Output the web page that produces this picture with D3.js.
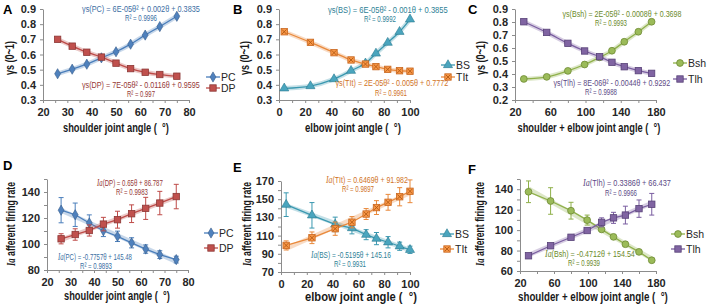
<!DOCTYPE html>
<html>
<head>
<meta charset="utf-8">
<script src="https://cdn.jsdelivr.net/npm/d3@7"></script>
<style>
  body { margin: 0; background: #fff; }
  svg text { font-family: "Liberation Sans", Arial, sans-serif; }
</style>
</head>
<body>
<svg id="chart" width="708" height="307"></svg>
<script>
// joint angles (x values)
const shoulderAngle = [26, 32, 38, 44, 50, 56, 62, 68, 75]
const elbowAngle = [4, 24, 42, 55, 66, 74, 83, 92, 100]
const sumAngle = [30, 56, 80, 99, 116, 130, 144, 160, 175]

// normalised spindle output ys (0~1)
const ysPC = [0.473, 0.503, 0.536, 0.578, 0.618, 0.668, 0.728, 0.784, 0.852]
const ysDP = [0.700, 0.655, 0.615, 0.583, 0.543, 0.507, 0.483, 0.468, 0.457]
const ysBS = [0.377, 0.392, 0.438, 0.493, 0.542, 0.607, 0.678, 0.750, 0.832]
const ysTIt = [0.750, 0.680, 0.612, 0.564, 0.537, 0.520, 0.502, 0.493, 0.490]
const ysBsh = [0.362, 0.378, 0.424, 0.473, 0.528, 0.579, 0.648, 0.725, 0.802]
const ysTlh = [0.802, 0.720, 0.636, 0.577, 0.533, 0.490, 0.456, 0.426, 0.405]

// Ia afferent firing rate, mean and error
const iaPC = [126, 122.5, 116.2, 110.2, 105.9, 100.9, 96.1, 91.8, 88]
const iaPCErr = [9.7, 9, 6.2, 4.5, 4, 3.9, 3.2, 3, 2.6]
const iaDP = [104, 107.3, 110.4, 115.3, 118.7, 123.3, 127.4, 131.5, 136.5]
const iaDPErr = [3.9, 4.4, 4.3, 5.2, 6.5, 6.8, 8.5, 9, 9.4]
const iaBS = [144, 132.3, 122.3, 118.3, 111, 106.7, 102.7, 98.3, 94.4]
const iaBSErr = [13, 14, 8, 6.4, 5.5, 6.7, 6.2, 4.5, 4]
const iaTIt = [99.2, 107.6, 117.6, 124.7, 133.7, 140.8, 146.6, 152.7, 158.7]
const iaTItErr = [5, 6.4, 7.3, 6.2, 6, 7.6, 8.7, 10, 12.5]
const iaBsh = [137.5, 128.5, 119, 109.8, 100.7, 93.4, 86.2, 78.7, 70.5]
const iaBshErr = [10.6, 13, 8.2, 4.9, 2, 1.5, 1.5, 1.5, 1.5]
const iaTlh = [74.9, 84.7, 93, 99.6, 107.6, 112, 114.7, 121, 125.3]
const iaTlhErr = [1.5, 1.5, 1.5, 1.5, 4.4, 5.4, 8.7, 8.5, 10.6]

// ticks
const xTicksShoulder = [20, 30, 40, 50, 60, 70, 80]
const xTicksElbow = [0, 20, 40, 60, 80, 100]
const xTicksSum = [20, 60, 100, 140, 180]
const yTicksA = [0.3, 0.4, 0.5, 0.6, 0.7, 0.8, 0.9]
const yTicksC = [0.2, 0.3, 0.4, 0.5, 0.6, 0.7, 0.8, 0.9]
const yTicksD = [80, 100, 120, 140]
const yTicksE = [70, 90, 110, 130, 150, 170]
const yTicksF = [60, 80, 100, 120, 140]

const svg = d3.select("#chart")
const axisColor = "#8c8c8c"

const colors = {
  PC:  {line: "#4a7ebb", fill: "#4f81bd", stroke: "#385d8a", text: "#3b6ea3"},
  DP:  {line: "#be4b48", fill: "#c0504d", stroke: "#8c3836", text: "#953735"},
  BS:  {line: "#3a98b0", fill: "#4aa5be", stroke: "#2a7a90", text: "#2e7f96"},
  TIt: {line: "#e9893b", fill: "#f79646", stroke: "#c8661f", text: "#d0731f"},
  Bsh: {line: "#8fb04a", fill: "#9bbb59", stroke: "#6e8a35", text: "#6b8a2a"},
  Tlh: {line: "#7a5ea0", fill: "#8064a2", stroke: "#574177", text: "#5c4a85"}
}

function marker(sel, kind, c) {
  if (kind == "diamond") {
    sel.append("path").attr("d", d3.symbol(d3.symbolDiamond, 30)).attr("fill", c.fill).attr("stroke", c.stroke).attr("stroke-width", 0.6)
  } else if (kind == "square") {
    sel.append("rect").attr("x", -3.2).attr("y", -3.2).attr("width", 6.4).attr("height", 6.4)
      .attr("fill", c.fill).attr("stroke", c.stroke).attr("stroke-width", 0.8)
  } else if (kind == "triangle") {
    sel.append("path").attr("d", d3.symbol(d3.symbolTriangle, 36)).attr("fill", c.fill).attr("stroke", c.stroke).attr("stroke-width", 0.6)
  } else if (kind == "xsquare") {
    sel.append("rect").attr("x", -3.2).attr("y", -3.2).attr("width", 6.4).attr("height", 6.4)
      .attr("fill", c.fill).attr("stroke", c.stroke).attr("stroke-width", 0.8)
    sel.append("path").attr("d", "M-2.3,-2.3L2.3,2.3M-2.3,2.3L2.3,-2.3").attr("stroke", "#b35a14").attr("stroke-width", 0.9)
  } else if (kind == "circle") {
    sel.append("circle").attr("r", 3.4).attr("fill", c.fill).attr("stroke", c.stroke).attr("stroke-width", 0.8)
  }
}

function linearFit(xs, ys) {
  const mx = d3.mean(xs), my = d3.mean(ys)
  const b = d3.sum(xs, (v, i) => (v - mx) * (ys[i] - my)) / d3.sum(xs, v => (v - mx) * (v - mx))
  return v => my + b * (v - mx)
}

// text squeezed horizontally to the width it has in the original (narrow font there)
// cx, cy = centre / baseline, w = target width, rot = rotate(-90) for y titles
function narrowText(parent, cx, cy, w, rot) {
  const g = parent.append("g")
  const t = g.append("text")
  t.fit = () => {
    const k = w / t.node().getComputedTextLength()
    g.attr("transform", "translate(" + cx + "," + cy + ")" + (rot ? " rotate(-90)" : "") + " scale(" + k + ",1)")
    t.attr("x", -w / 2 / k)
  }
  return t
}

function panel(cfg) {
  const x = d3.scaleLinear().domain(cfg.xDomain).range(cfg.xRange)
  const y = d3.scaleLinear().domain(cfg.yDomain).range(cfg.yRange)
  const g = svg.append("g")

  const xMinor = d3.range(cfg.xDomain[0], cfg.xDomain[1] + 0.001, cfg.xStep)
  const yMinor = d3.range(cfg.yDomain[0], cfg.yDomain[1] + 0.0001, cfg.yStep).map(v => +v.toFixed(3))
  const onList = (list, v) => list.some(t => Math.abs(t - v) < 1e-6)

  const xa = g.append("g").attr("transform", "translate(0," + cfg.yRange[0] + ")")
    .call(d3.axisBottom(x).tickValues(xMinor).tickSize(3).tickSizeOuter(0).tickPadding(5)
      .tickFormat(v => onList(cfg.xTicks, v) ? v : ""))
  const ya = g.append("g").attr("transform", "translate(" + cfg.xRange[0] + ",0)")
    .call(d3.axisLeft(y).tickValues(yMinor).tickSize(3).tickSizeOuter(0).tickPadding(4)
      .tickFormat(v => onList(cfg.yTicks, v) ? cfg.yFmt(v) : ""))
  ;[xa, ya].forEach(a => {
    a.select(".domain").attr("stroke", axisColor)
    a.selectAll(".tick line").attr("stroke", axisColor)
    a.selectAll(".tick text").attr("fill", "#262626").attr("font-size", "11px").attr("font-weight", "bold")
  })

  // axis titles
  const xt = narrowText(g, cfg.xTitlePos[0], cfg.xTitlePos[1], cfg.xTitleW)
    .attr("font-size", "12.5px").attr("font-weight", "bold").attr("fill", "#1a1a1a")
    .text(cfg.xTitle)
  xt.fit()
  const yt = narrowText(g, cfg.yTitlePos[0], cfg.yTitlePos[1], cfg.yTitleW, true)
    .attr("font-size", "12.5px").attr("font-weight", "bold").attr("fill", "#1a1a1a")
  if (cfg.ia) {
    yt.append("tspan").attr("font-family", "Liberation Serif, Times New Roman, serif").attr("font-style", "italic").text("Ia")
    yt.append("tspan").text(" afferent firing rate")
  } else {
    yt.text("γs (0~1)")
  }
  yt.fit()

  // panel letter
  svg.append("text").attr("x", cfg.letterPos[0]).attr("y", cfg.letterPos[1])
    .attr("font-size", "13px").attr("font-weight", "bold")
    .text(cfg.letter)

  cfg.series.forEach(s => {
    const c = colors[s.name]
    const pts = cfg.xs.map((v, i) => [x(v), y(s.values[i])])

    // trendline halo
    if (cfg.ia) {
      const f = linearFit(cfg.xs, s.values)
      const x0 = cfg.xs[0], x1 = cfg.xs[cfg.xs.length - 1]
      g.append("line").attr("x1", x(x0)).attr("y1", y(f(x0))).attr("x2", x(x1)).attr("y2", y(f(x1)))
        .attr("stroke", c.line).attr("stroke-opacity", 0.3).attr("stroke-width", 4.5)
    } else {
      g.append("path").attr("d", d3.line().curve(d3.curveCatmullRom)(pts))
        .attr("fill", "none").attr("stroke", c.line).attr("stroke-opacity", 0.3).attr("stroke-width", 4.5)
    }

    // error bars
    if (s.err) {
      const eb = g.append("g").attr("stroke", c.line).attr("stroke-width", 1)
      cfg.xs.forEach((v, i) => {
        const lo = y(s.values[i] - s.err[i]), hi = y(s.values[i] + s.err[i]), px = x(v)
        eb.append("line").attr("x1", px).attr("x2", px).attr("y1", lo).attr("y2", hi)
        eb.append("line").attr("x1", px - 2.5).attr("x2", px + 2.5).attr("y1", lo).attr("y2", lo)
        eb.append("line").attr("x1", px - 2.5).attr("x2", px + 2.5).attr("y1", hi).attr("y2", hi)
      })
    }

    // data line
    g.append("path").attr("d", d3.line().curve(cfg.ia ? d3.curveLinear : d3.curveCatmullRom)(pts))
      .attr("fill", "none").attr("stroke", c.line).attr("stroke-width", 1.3)

    // markers
    pts.forEach(p => {
      marker(g.append("g").attr("transform", "translate(" + p[0] + "," + p[1] + ")"), s.marker, c)
    })

    // equation
    const eq = narrowText(g, s.eqPos[0], s.eqPos[1], s.eqW)
      .attr("font-size", "9px").attr("fill", c.text)
    if (cfg.ia) {
      eq.append("tspan").attr("font-family", "Liberation Serif, Times New Roman, serif").attr("font-style", "italic").attr("font-size", "10px").text("Ia")
      eq.append("tspan").text(s.eq)
    } else {
      eq.text(s.eq)
    }
    eq.fit()
    const r2 = narrowText(g, s.r2Pos[0], s.r2Pos[1], s.r2.length > 10 ? 32 : 28)
      .attr("font-size", "9px").attr("fill", c.text).text(s.r2)
    r2.fit()

    // legend
    const lg = g.append("g").attr("transform", "translate(" + s.legPos[0] + "," + s.legPos[1] + ")")
    lg.append("line").attr("x1", 0).attr("x2", 14).attr("stroke", c.line).attr("stroke-width", 1.3)
    marker(lg.append("g").attr("transform", "translate(7,0)"), s.marker, c)
    lg.append("text").attr("x", 15).attr("y", 4).attr("font-size", "10.5px").attr("fill", "#262626").text(s.name)
  })
}

const fmt1 = d3.format(".1f")
const fmt0 = d3.format("d")

panel({
  letter: "A", letterPos: [3, 14],
  xDomain: [20, 80], xRange: [43, 189], xStep: 5, xTicks: xTicksShoulder,
  yDomain: [0.3, 0.9], yRange: [100, 9], yStep: 0.1, yTicks: yTicksA, yFmt: fmt1,
  xTitle: "shoulder joint angle ( \u00a0°)", xTitlePos: [116, 132], xTitleW: 106, yTitlePos: [14, 58], yTitleW: 34,
  xs: shoulderAngle,
  series: [
    {name: "PC", values: ysPC, marker: "diamond", eq: "γs(PC) = 6E-05θ² + 0.002θ + 0.3835", eqPos: [141, 12], eqW: 118, r2: "R² = 0.9996", r2Pos: [141, 21], legPos: [206, 77]},
    {name: "DP", values: ysDP, marker: "square", eq: "γs(DP) = 7E-05θ² - 0.0116θ + 0.9595", eqPos: [141, 88], eqW: 118, r2: "R² = 0.997", r2Pos: [141, 97], legPos: [206, 88]}
  ]
})

panel({
  letter: "B", letterPos: [233, 14],
  xDomain: [0, 100], xRange: [279, 410], xStep: 10, xTicks: xTicksElbow,
  yDomain: [0.3, 0.9], yRange: [100, 9], yStep: 0.1, yTicks: yTicksA, yFmt: fmt1,
  xTitle: "elbow joint angle ( \u00a0°)", xTitlePos: [353, 132], xTitleW: 96, yTitlePos: [249, 58], yTitleW: 34,
  xs: elbowAngle,
  series: [
    {name: "BS", values: ysBS, marker: "triangle", eq: "γs(BS) = 6E-05θ² - 0.001θ + 0.3855", eqPos: [388, 13], eqW: 120, r2: "R² = 0.9992", r2Pos: [380, 22], legPos: [441, 65]},
    {name: "TIt", values: ysTIt, marker: "xsquare", eq: "γs(TIt) = 2E-05θ² - 0.005θ + 0.7772", eqPos: [392, 86], eqW: 113, r2: "R² = 0.9961", r2Pos: [391, 96], legPos: [441, 77]}
  ]
})

panel({
  letter: "C", letterPos: [468, 14],
  xDomain: [20, 180], xRange: [515, 656], xStep: 20, xTicks: xTicksSum,
  yDomain: [0.2, 0.9], yRange: [100, 9], yStep: 0.1, yTicks: yTicksC, yFmt: fmt1,
  xTitle: "shoulder + elbow joint angle ( \u00a0°)", xTitlePos: [589, 132], xTitleW: 143, yTitlePos: [485, 58], yTitleW: 34,
  xs: sumAngle,
  series: [
    {name: "Bsh", values: ysBsh, marker: "circle", eq: "γs(Bsh) = 2E-05θ² - 0.0008θ + 0.3698", eqPos: [622, 17], eqW: 119, r2: "R² = 0.9993", r2Pos: [611, 26], legPos: [673, 63]},
    {name: "Tlh", values: ysTlh, marker: "square", eq: "γs(Tlh) = 8E-06θ² - 0.0044θ + 0.9292", eqPos: [612, 86], eqW: 117, r2: "R² = 0.9988", r2Pos: [601, 95], legPos: [673, 79]}
  ]
})

panel({
  letter: "D", letterPos: [3, 170], ia: true,
  xDomain: [20, 80], xRange: [47, 188], xStep: 5, xTicks: xTicksShoulder,
  yDomain: [80, 150], yRange: [270, 179], yStep: 10, yTicks: yTicksD, yFmt: fmt0,
  xTitle: "shoulder joint angle ( \u00a0°)", xTitlePos: [117, 300], xTitleW: 106, yTitlePos: [15, 224], yTitleW: 84,
  xs: shoulderAngle,
  series: [
    {name: "PC", values: iaPC, err: iaPCErr, marker: "diamond", eq: "(PC) = -0.7757θ + 145.48", eqPos: [95, 260], eqW: 74, r2: "R² = 0.9893", r2Pos: [96, 269], legPos: [204, 233]},
    {name: "DP", values: iaDP, err: iaDPErr, marker: "square", eq: "(DP) = 0.65θ + 86.787", eqPos: [130, 186], eqW: 66, r2: "R² = 0.9983", r2Pos: [132, 195], legPos: [204, 248]}
  ]
})

panel({
  letter: "E", letterPos: [233, 172], ia: true,
  xDomain: [0, 100], xRange: [281, 410], xStep: 10, xTicks: xTicksElbow,
  yDomain: [70, 170], yRange: [272, 181], yStep: 10, yTicks: yTicksE, yFmt: fmt0,
  xTitle: "elbow joint angle ( \u00a0°)", xTitlePos: [361, 301], xTitleW: 112, yTitlePos: [251, 224], yTitleW: 84,
  xs: elbowAngle,
  series: [
    {name: "BS", values: iaBS, err: iaBSErr, marker: "triangle", eq: "(BS) = -0.5195θ + 145.16", eqPos: [351, 258], eqW: 80, r2: "R² = 0.9931", r2Pos: [350, 267], legPos: [440, 234]},
    {name: "TIt", values: iaTIt, err: iaTItErr, marker: "xsquare", eq: "(TIt) = 0.6469θ + 91.982", eqPos: [367, 183], eqW: 82, r2: "R² = 0.9897", r2Pos: [358, 192], legPos: [440, 249]}
  ]
})

panel({
  letter: "F", letterPos: [468, 174], ia: true,
  xDomain: [20, 180], xRange: [520, 656], xStep: 20, xTicks: xTicksSum,
  yDomain: [60, 150], yRange: [271, 179], yStep: 10, yTicks: yTicksF, yFmt: fmt0,
  xTitle: "shoulder + elbow joint angle ( \u00a0°)", xTitlePos: [593, 301], xTitleW: 150, yTitlePos: [484, 224], yTitleW: 84,
  xs: sumAngle,
  series: [
    {name: "Bsh", values: iaBsh, err: iaBshErr, marker: "circle", eq: "(Bsh) = -0.4712θ + 154.54", eqPos: [590, 257], eqW: 90, r2: "R² = 0.9939", r2Pos: [584, 266], legPos: [671, 234]},
    {name: "Tlh", values: iaTlh, err: iaTlhErr, marker: "square", eq: "(Tlh) = 0.3386θ + 66.437", eqPos: [627, 186], eqW: 88, r2: "R² = 0.9966", r2Pos: [621, 196], legPos: [671, 249]}
  ]
})
</script>
</body>
</html>
